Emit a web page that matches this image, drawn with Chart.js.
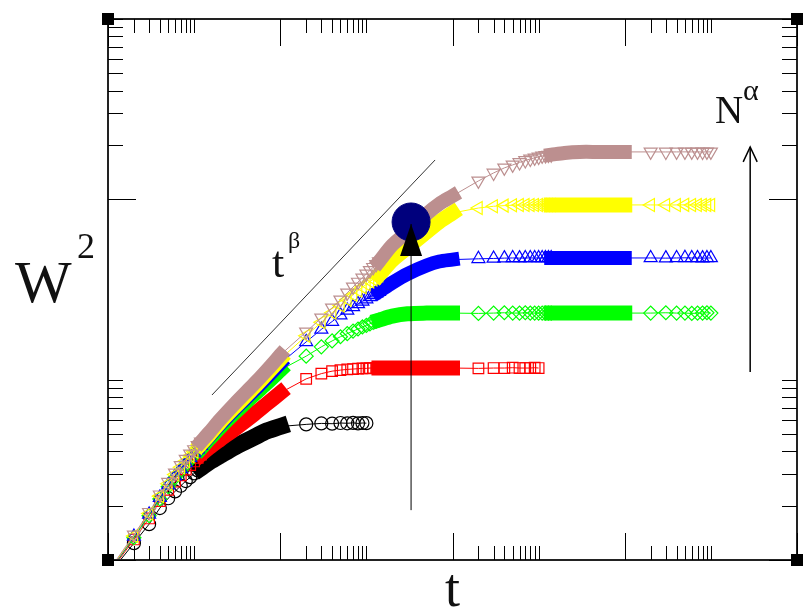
<!DOCTYPE html>
<html>
<head>
<meta charset="utf-8">
<script src="https://cdn.jsdelivr.net/npm/chart.js@4.4.1/dist/chart.umd.min.js"></script>
<style>
  html, body { margin: 0; padding: 0; background: #fff; }
</style>
</head>
<body>
<canvas id="widthChart" width="803" height="610"></canvas>
<script>
// log-log axes, majors every two decades
const tRange = [1, 1e8];
const wRange = [1, 1000];
const tMajor = [1, 1e2, 1e4, 1e6, 1e8];
const tMinor = [2, 3, 4, 5, 6, 7, 8, 9, 10,
    200, 300, 400, 500, 600, 700, 800, 900, 1000,
    2e4, 3e4, 4e4, 5e4, 6e4, 7e4, 8e4, 9e4, 1e5,
    2e6, 3e6, 4e6, 5e6, 6e6, 7e6, 8e6, 9e6, 1e7];
const wMajor = [1, 100];
const wMinor = [2, 3, 4, 5, 6, 7, 8, 9, 10, 200, 300, 400, 500, 600, 700, 800, 900, 1000];

// sampled times (sparse markers) and dense stretches (drawn as a solid band)
const tA = [1, 2, 3, 4, 5, 6, 7, 8, 9, 10, 11, 12];
const tB = [200, 300, 400, 500, 600, 700, 800, 900, 1000, 1100, 1200, 1300, 1400];
const tC = [2e4, 3e4, 4e4, 5e4, 6e4, 7e4, 8e4, 9e4, 1e5, 1.1e5, 1.2e5, 1.3e5, 1.4e5];
const tD = [2e6, 3e6, 4e6, 5e6, 6e6, 7e6, 8e6, 9e6, 1e7];
const tBand1 = [12, 15, 20, 30, 50, 70, 100];
const tBand2 = [1400, 2000, 3000, 5000, 7000, 1e4];
const tBand3 = [1.4e5, 2e5, 3e5, 5e5, 7e5, 1e6];

// black (circles)
const wBlackA = [0.82, 1.24, 1.58, 1.94, 2.2, 2.4, 2.58, 2.74, 2.88, 3.02, 3.14, 3.25];
const wBlackBand1 = [3.25, 3.5, 3.8, 4.25, 4.8, 5.2, 5.5];
const wBlackB = [5.65, 5.72, 5.7, 5.75, 5.73, 5.76, 5.72, 5.75, 5.74];

// red (squares)
const wRedA = [0.83, 1.3, 1.7, 2.12, 2.45, 2.72, 2.95, 3.17, 3.36, 3.52, 3.68, 3.84];
const wRedBand1 = [3.84, 4.2, 4.65, 5.35, 6.45, 7.35, 8.45];
const wRedB = [10.1, 10.8, 11.15, 11.3, 11.4, 11.45, 11.5, 11.55, 11.55, 11.6, 11.6, 11.6, 11.6];
const wRedBand2 = [11.6, 11.6, 11.6, 11.6, 11.6, 11.6];
const wRedC = [11.55, 11.6, 11.6, 11.65, 11.6, 11.6, 11.6, 11.65, 11.6];

// green (diamonds)
const wGreenA = [0.84, 1.33, 1.76, 2.18, 2.55, 2.86, 3.13, 3.38, 3.6, 3.8, 4.0, 4.17];
const wGreenBand1 = [4.17, 4.7, 5.45, 6.6, 8.3, 9.6, 11.3];
const wGreenB = [13.5, 15.2, 16.4, 17.3, 18.0, 18.6, 19.1, 19.6, 20.0, 20.4, 20.8, 21.1, 21.4];
const wGreenBand2 = [21.4, 22.5, 23.2, 23.4, 23.4, 23.4];
const wGreenC = [23.3, 23.4, 23.5, 23.4, 23.4, 23.5, 23.4, 23.4, 23.4, 23.4, 23.4, 23.4, 23.4];
const wGreenBand3 = [23.4, 23.4, 23.4, 23.4, 23.4, 23.4];
const wGreenD = [23.4, 23.5, 23.4, 23.4, 23.3, 23.4, 23.4, 23.5, 23.4];

// blue (up triangles)
const wBlueA = [0.84, 1.35, 1.79, 2.22, 2.6, 2.92, 3.2, 3.46, 3.7, 3.92, 4.12, 4.3];
const wBlueBand1 = [4.3, 4.85, 5.65, 6.9, 8.75, 10.3, 12.3];
const wBlueB = [16.2, 19.0, 21.0, 22.8, 24.2, 25.3, 26.3, 27.2, 28.0, 28.8, 29.5, 30.2, 30.8];
const wBlueBand2 = [30.8, 34.5, 38.6, 43.0, 45.2, 46.3];
const wBlueC = [46.8, 47.0, 47.2, 47.3, 47.2, 47.3, 47.3, 47.3, 47.3, 47.3, 47.3, 47.3, 47.3];
const wBlueBand3 = [47.3, 47.3, 47.3, 47.3, 47.3, 47.3];
const wBlueD = [47.3, 47.2, 47.3, 47.4, 47.3, 47.3, 47.2, 47.3, 47.3];

// yellow (left triangles)
const wYellowA = [0.85, 1.36, 1.81, 2.26, 2.65, 2.98, 3.27, 3.54, 3.78, 4.0, 4.2, 4.4];
const wYellowBand1 = [4.4, 4.95, 5.8, 7.1, 9.1, 10.8, 13.0];
const wYellowB = [17.5, 20.8, 23.5, 25.8, 27.8, 29.6, 31.2, 32.6, 33.8, 35.0, 36.0, 37.0, 38.0];
const wYellowBand2 = [38.0, 46.0, 54.0, 66.0, 75.0, 84.0];
const wYellowC = [89.5, 91.5, 92.3, 92.8, 93.0, 93.0, 93.1, 93.1, 93.1, 93.1, 93.1, 93.1, 93.1];
const wYellowBand3 = [93.1, 93.1, 93.1, 93.1, 93.1, 93.1];
const wYellowD = [93.1, 93.0, 93.1, 93.2, 93.1, 93.1, 93.0, 93.1, 93.1];

// brown (down triangles)
const wBrownA = [0.86, 1.38, 1.84, 2.3, 2.7, 3.04, 3.35, 3.63, 3.88, 4.1, 4.32, 4.52];
const wBrownBand1 = [4.52, 5.1, 6.0, 7.4, 9.5, 11.3, 13.7];
const wBrownB = [18.4, 22.0, 25.0, 27.7, 30.3, 32.7, 34.8, 36.7, 38.6, 40.4, 42.0, 43.6, 45.1];
const wBrownBand2 = [45.1, 55.8, 65.9, 83.0, 94.3, 104.4];
const wBrownC = [126.5, 140.1, 149.4, 155.2, 160.2, 164.3, 167.5, 169.8, 171.8, 174.1, 175.1, 176.0, 176.8];
const wBrownBand3 = [176.8, 180.9, 183.2, 183.2, 183.2, 183.2];
const wBrownD = [183.2, 183.1, 183.2, 183.3, 183.2, 183.2, 183.1, 183.2, 183.2];

// guide line t^beta, the marked point and the two arrows
const guideT = [16.1, 6281];
const guideW = [8.22, 165.3];
const dotT = [3304];
const dotW = [74.9];
const upArrowT = [3304, 3304];
const upArrowW = [1.89, 73];
const nArrowT = [2.86e7, 2.86e7];
const nArrowW = [11.03, 195.3];

// label anchors, in data units
const notes = {
    slope: { t: 80.3, w: 37.1 },
    nAlpha: { t: 1.12e7, w: 265 }
};

const pairs = (ts, ws) => ws.map((w, i) => ({ x: ts[i], y: w }));

function makeSeries(color, style, rotation, radius, bandWidth, marks, bands, order) {
    const bandPts = bands.map(b => b.map(p => ({ x: p.x, y: p.y, band: true })));
    const all = [].concat(...marks, ...bandPts).sort((a, b) => a.x - b.x);
    const bandData = [];
    bandPts.forEach((b, i) => {
        if (i) bandData.push({ x: b[0].x, y: null });
        bandData.push(...b);
    });
    return [{
        data: all,
        showLine: true,
        borderColor: color,
        borderWidth: 1,
        pointStyle: style,
        rotation: rotation,
        pointRadius: ctx => (ctx.raw && ctx.raw.band) ? 0 : radius,
        pointBorderColor: color,
        pointBackgroundColor: 'rgba(0,0,0,0)',
        pointBorderWidth: 1.2,
        clip: 0,
        order: order + 0.5
    }, {
        data: bandData,
        showLine: true,
        spanGaps: false,
        borderColor: color,
        borderWidth: bandWidth,
        borderCapStyle: 'square',
        tension: 0.3,
        pointRadius: 0,
        clip: 0,
        order: order
    }];
}

const datasets = [].concat(
    makeSeries('#000000', 'circle', 0, 6.5, 17,
        [pairs(tA, wBlackA), pairs(tB, wBlackB)],
        [pairs(tBand1, wBlackBand1)], 60),
    makeSeries('#ff0000', 'rect', 0, 7.5, 15,
        [pairs(tA, wRedA), pairs(tB, wRedB), pairs(tC, wRedC)],
        [pairs(tBand1, wRedBand1), pairs(tBand2, wRedBand2)], 50),
    makeSeries('#00ff00', 'rectRot', 0, 7, 15,
        [pairs(tA, wGreenA), pairs(tB, wGreenB), pairs(tC, wGreenC), pairs(tD, wGreenD)],
        [pairs(tBand1, wGreenBand1), pairs(tBand2, wGreenBand2), pairs(tBand3, wGreenBand3)], 40),
    makeSeries('#0000ff', 'triangle', 0, 7.5, 14,
        [pairs(tA, wBlueA), pairs(tB, wBlueB), pairs(tC, wBlueC), pairs(tD, wBlueD)],
        [pairs(tBand1, wBlueBand1), pairs(tBand2, wBlueBand2), pairs(tBand3, wBlueBand3)], 30),
    makeSeries('#ffff00', 'triangle', -90, 7.5, 15,
        [pairs(tA, wYellowA), pairs(tB, wYellowB), pairs(tC, wYellowC), pairs(tD, wYellowD)],
        [pairs(tBand1, wYellowBand1), pairs(tBand2, wYellowBand2), pairs(tBand3, wYellowBand3)], 20),
    makeSeries('#bc8f8f', 'triangle', 180, 7.5, 14,
        [pairs(tA, wBrownA), pairs(tB, wBrownB), pairs(tC, wBrownC), pairs(tD, wBrownD)],
        [pairs(tBand1, wBrownBand1), pairs(tBand2, wBrownBand2), pairs(tBand3, wBrownBand3)], 10),
    [{
        data: pairs(guideT, guideW), showLine: true, borderColor: '#333', borderWidth: 1,
        pointRadius: 0, order: 5
    }, {
        data: pairs(dotT, dotW), pointRadius: 19, pointBackgroundColor: '#00007d',
        pointBorderColor: '#00007d', order: 3
    }, {
        data: pairs(upArrowT, upArrowW), showLine: true, borderColor: '#000', borderWidth: 1,
        pointRadius: 0, order: 1
    }, {
        data: pairs(nArrowT, nArrowW), showLine: true, borderColor: '#000', borderWidth: 1.5,
        pointRadius: 0, order: 1
    }]
);

// frame, inward ticks, arrow heads and texts
const overlay = {
    id: 'overlay',
    afterDatasetsDraw(chart) {
        const { ctx, chartArea: area, scales: { x, y } } = chart;
        ctx.save();

        ctx.strokeStyle = '#222';
        ctx.lineWidth = 2;
        ctx.strokeRect(area.left, area.top, area.right - area.left, area.bottom - area.top);

        ctx.strokeStyle = '#000';
        ctx.lineWidth = 1;
        ctx.beginPath();
        const tickX = (vals, len) => vals.forEach(v => {
            const px = Math.round(x.getPixelForValue(v)) + 0.5;
            ctx.moveTo(px, area.bottom); ctx.lineTo(px, area.bottom - len);
            ctx.moveTo(px, area.top); ctx.lineTo(px, area.top + len);
        });
        const tickY = (vals, len) => vals.forEach(v => {
            const py = Math.round(y.getPixelForValue(v)) + 0.5;
            ctx.moveTo(area.left, py); ctx.lineTo(area.left + len, py);
            ctx.moveTo(area.right, py); ctx.lineTo(area.right - len, py);
        });
        tickX(tMajor, 27);
        tickX(tMinor, 14);
        tickY(wMajor, 28);
        tickY(wMinor, 15);
        ctx.stroke();

        ctx.fillStyle = '#000';
        [[area.left, area.top], [area.right, area.top], [area.left, area.bottom], [area.right, area.bottom]]
            .forEach(([cx, cy]) => ctx.fillRect(cx - 6, cy - 6, 12, 12));

        // filled head on the vertical arrow
        const ax = x.getPixelForValue(upArrowT[1]);
        const ay = y.getPixelForValue(upArrowW[1]);
        ctx.beginPath();
        ctx.moveTo(ax, ay);
        ctx.lineTo(ax - 11, ay + 32);
        ctx.lineTo(ax + 11, ay + 32);
        ctx.closePath();
        ctx.fill();

        // open head on the N^alpha arrow
        const nx = x.getPixelForValue(nArrowT[1]);
        const ny = y.getPixelForValue(nArrowW[1]);
        ctx.lineWidth = 1.5;
        ctx.beginPath();
        ctx.moveTo(nx - 7, ny + 15);
        ctx.lineTo(nx, ny);
        ctx.lineTo(nx + 7, ny + 15);
        ctx.stroke();

        ctx.fillStyle = '#111';
        ctx.textBaseline = 'alphabetic';
        const serif = '"Liberation Serif", "Times New Roman", serif';

        ctx.font = '54px ' + serif;
        ctx.textAlign = 'center';
        ctx.fillText('t', (area.left + area.right) / 2, area.bottom + 46);

        ctx.textAlign = 'left';
        ctx.font = '60px ' + serif;
        ctx.fillText('W', area.left - 93, area.top + 283);
        ctx.font = '36px ' + serif;
        ctx.fillText('2', area.left - 31, area.top + 239);

        const sx = x.getPixelForValue(notes.slope.t);
        const sy = y.getPixelForValue(notes.slope.w);
        ctx.font = '44px ' + serif;
        ctx.fillText('t', sx, sy);
        ctx.font = '24px ' + serif;
        ctx.fillText('\u03B2', sx + 16, sy - 29);

        const qx = x.getPixelForValue(notes.nAlpha.t);
        const qy = y.getPixelForValue(notes.nAlpha.w);
        ctx.font = '39px ' + serif;
        ctx.fillText('N', qx, qy);
        ctx.font = '30px ' + serif;
        ctx.fillText('\u03B1', qx + 28, qy - 23);

        ctx.restore();
    }
};

new Chart(document.getElementById('widthChart'), {
    type: 'scatter',
    data: { datasets: datasets },
    options: {
        responsive: false,
        animation: false,
        layout: { autoPadding: false, padding: { left: 108, top: 19, right: 6, bottom: 50 } },
        scales: {
            x: { type: 'logarithmic', min: tRange[0], max: tRange[1], display: false },
            y: { type: 'logarithmic', min: wRange[0], max: wRange[1], display: false }
        },
        plugins: {
            legend: { display: false },
            tooltip: { enabled: false }
        }
    },
    plugins: [overlay]
});
</script>
</body>
</html>
